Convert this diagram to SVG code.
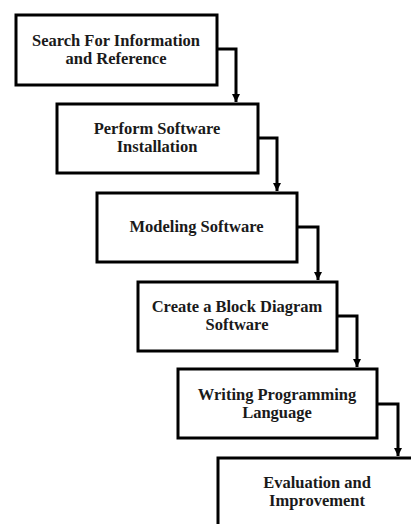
<svg xmlns="http://www.w3.org/2000/svg" width="411" height="524" viewBox="0 0 411 524">
<defs>
<style>
.box{fill:#fff;stroke:#000;stroke-width:3}
.lbl{font-family:"Liberation Serif","Times New Roman",serif;font-weight:bold;font-size:16.5px;fill:#1a1a1a;text-anchor:middle}
.conn{fill:none;stroke:#000;stroke-width:3}
</style>
<marker id="arr" markerUnits="userSpaceOnUse" markerWidth="10" markerHeight="10" viewBox="0 0 10 10" refX="8" refY="5" orient="auto">
<path d="M0,1 L8,5 L0,9 Z" fill="#000"/>
</marker>
</defs>
<rect width="411" height="524" fill="#fff"/>
<g id="n1"><rect class="box" x="16" y="15" width="201" height="70"/><text class="lbl" x="116" y="46">Search For Information</text><text class="lbl" x="116" y="64">and Reference</text></g>
<g id="n2"><rect class="box" x="57" y="104" width="201" height="69"/><text class="lbl" x="157" y="134">Perform Software</text><text class="lbl" x="157" y="152">Installation</text></g>
<g id="n3"><rect class="box" x="97" y="193" width="200" height="69"/><text class="lbl" x="196.5" y="232">Modeling Software</text></g>
<g id="n4"><rect class="box" x="138" y="282" width="199" height="69"/><text class="lbl" x="237" y="312">Create a Block Diagram</text><text class="lbl" x="237" y="330">Software</text></g>
<g id="n5"><rect class="box" x="178" y="369" width="199" height="69"/><text class="lbl" x="277" y="400">Writing Programming</text><text class="lbl" x="277" y="418">Language</text></g>
<g id="n6"><rect class="box" x="218" y="458" width="200" height="70"/><text class="lbl" x="317" y="488">Evaluation and</text><text class="lbl" x="317" y="506">Improvement</text></g>
<g id="connectors">
<path class="conn" d="M217 49 H236 V102" marker-end="url(#arr)"/>
<path class="conn" d="M258 138 H277 V191" marker-end="url(#arr)"/>
<path class="conn" d="M297 227 H318 V280" marker-end="url(#arr)"/>
<path class="conn" d="M337 316 H357 V367" marker-end="url(#arr)"/>
<path class="conn" d="M377 404 H398 V456" marker-end="url(#arr)"/>
</g>
</svg>
